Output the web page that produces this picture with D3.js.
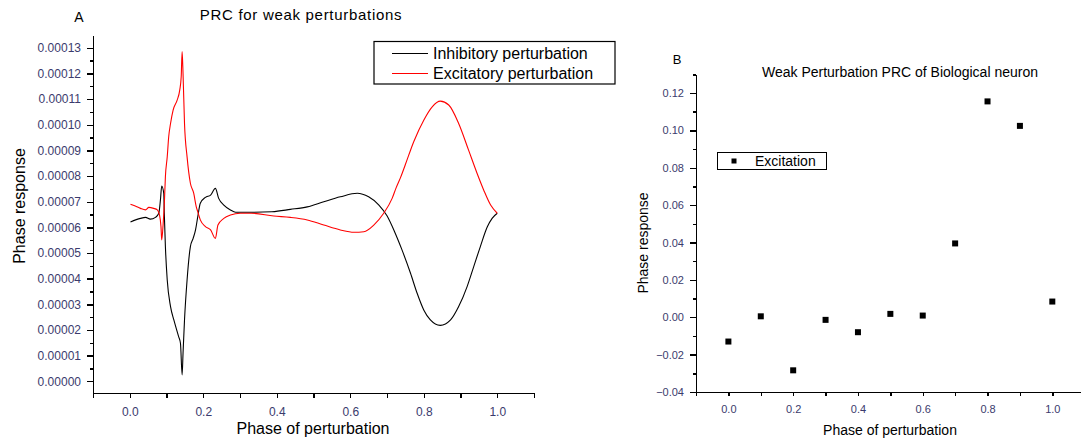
<!DOCTYPE html>
<meta charset="utf-8">
<style> /* set the CSS */

body { margin: 0; background: #fff; }

svg text {
  font-family: "Liberation Sans", Arial, sans-serif;
  fill: #000;
}

.axis path, .axis line {
  stroke: #000;
  stroke-width: 1.4px;
  shape-rendering: crispEdges;
}

.axis text {
  fill: #3b3b6d;
}

.line {
  fill: none;
  stroke-width: 1.1px;
}

</style>
<body>
<svg width="1081" height="439"></svg>
<!-- load the d3.js library -->
<script src="https://d3js.org/d3.v7.min.js"></script>
<script>

// ---- panel A data (phase, response) ----
var inhibPhase = [0.002, 0.029, 0.043, 0.056, 0.070, 0.079, 0.0835, 0.087, 0.0925, 0.094,
  0.097, 0.102, 0.111, 0.120, 0.133, 0.138, 0.1425, 0.145, 0.149, 0.156,
  0.165, 0.1725, 0.179, 0.185, 0.192, 0.206, 0.220, 0.233, 0.242, 0.256,
  0.274, 0.288, 0.330, 0.387, 0.437, 0.483, 0.528, 0.573, 0.619, 0.650,
  0.678, 0.700, 0.720, 0.740, 0.764, 0.782, 0.800, 0.818, 0.845, 0.873,
  0.895, 0.918, 0.936, 0.954, 0.973, 0.986, 1.000];
var inhibResp = [6.21e-5, 6.35e-5, 6.39e-5, 6.32e-5, 6.39e-5, 6.55e-5, 7.07e-5, 7.61e-5, 7.33e-5, 6.55e-5,
  5.25e-5, 3.95e-5, 2.91e-5, 2.39e-5, 1.74e-5, 1.48e-5, 0.25e-5, 1.09e-5, 2.39e-5, 3.95e-5,
  5.25e-5, 5.57e-5, 5.90e-5, 6.41e-5, 6.94e-5, 7.17e-5, 7.26e-5, 7.52e-5, 7.13e-5, 6.87e-5,
  6.68e-5, 6.59e-5, 6.59e-5, 6.61e-5, 6.70e-5, 6.80e-5, 7.00e-5, 7.19e-5, 7.33e-5, 7.19e-5,
  6.87e-5, 6.45e-5, 5.85e-5, 5.15e-5, 4.21e-5, 3.43e-5, 2.78e-5, 2.39e-5, 2.18e-5, 2.39e-5,
  2.91e-5, 3.69e-5, 4.47e-5, 5.25e-5, 6.02e-5, 6.35e-5, 6.55e-5];

var excitPhase = [0.002, 0.015, 0.029, 0.043, 0.052, 0.065, 0.075, 0.081, 0.085, 0.087,
  0.091, 0.0945, 0.097, 0.102, 0.106, 0.111, 0.118, 0.129, 0.136, 0.140,
  0.1425, 0.145, 0.149, 0.156, 0.165, 0.174, 0.181, 0.185, 0.192, 0.206,
  0.220, 0.233, 0.240, 0.256, 0.274, 0.301, 0.330, 0.392, 0.437, 0.483,
  0.528, 0.573, 0.610, 0.637, 0.664, 0.691, 0.714, 0.725, 0.737, 0.750,
  0.773, 0.800, 0.823, 0.845, 0.868, 0.895, 0.922, 0.945, 0.963, 0.982, 1.000];
var excitResp = [6.90e-5, 6.83e-5, 6.74e-5, 6.68e-5, 6.78e-5, 6.74e-5, 6.68e-5, 6.48e-5, 6.03e-5, 5.51e-5,
  6.16e-5, 7.07e-5, 7.97e-5, 8.75e-5, 9.53e-5, 10.05e-5, 10.57e-5, 10.96e-5, 11.35e-5, 11.87e-5,
  12.85e-5, 12.0e-5, 10.05e-5, 8.75e-5, 7.72e-5, 7.33e-5, 6.80e-5, 6.61e-5, 6.29e-5, 6.03e-5,
  5.90e-5, 5.57e-5, 6.09e-5, 6.35e-5, 6.48e-5, 6.55e-5, 6.55e-5, 6.44e-5, 6.39e-5, 6.29e-5,
  6.09e-5, 5.90e-5, 5.81e-5, 5.83e-5, 6.09e-5, 6.55e-5, 7.13e-5, 7.55e-5, 7.95e-5, 8.45e-5,
  9.35e-5, 10.18e-5, 10.70e-5, 10.92e-5, 10.77e-5, 10.05e-5, 9.01e-5, 8.11e-5, 7.46e-5, 6.87e-5, 6.55e-5];

// ---- panel B data ----
var bioPhase = [0.0, 0.1, 0.2, 0.3, 0.4, 0.5, 0.6, 0.7, 0.8, 0.9, 1.0];
var bioResp = [-0.013, 0.0005, -0.0284, -0.0014, -0.008, 0.0018, 0.0009, 0.0395, 0.1155, 0.1024, 0.0084];

// tick values
var phaseTicks = [-0.1, 0.0, 0.1, 0.2, 0.3, 0.4, 0.5, 0.6, 0.7, 0.8, 0.9, 1.0, 1.1];
var phaseLabels = [0.0, 0.2, 0.4, 0.6, 0.8, 1.0];
var respTicksA = [0, 1e-5, 2e-5, 3e-5, 4e-5, 5e-5, 6e-5, 7e-5, 8e-5, 9e-5, 10e-5, 11e-5, 12e-5, 13e-5];
var respTicksB = [-0.04, -0.02, 0.00, 0.02, 0.04, 0.06, 0.08, 0.10, 0.12];

var legendA = ["Inhibitory perturbation", "Excitatory perturbation"];
var legendColors = ["#000000", "#ff0000"];

var svg = d3.select("svg");

function isLabel(v) {
  return phaseLabels.some(function(l) { return Math.abs(l - v) < 1e-9; });
}

// =========== panel A ===========
var xA = d3.scaleLinear().domain([-0.1, 1.1]).range([93, 534]);
var yA = d3.scaleLinear().domain([-0.0000047, 0.000135]).range([393.3, 35]);

var gA = svg.append("g");

// minor y ticks
gA.append("g")
    .attr("class", "axis")
    .attr("transform", "translate(93,0)")
    .call(d3.axisLeft(yA)
        .tickValues(respTicksA.map(function(d) { return d + 0.5e-5; }).slice(0, 13))
        .tickSize(3).tickSizeOuter(0).tickFormat(""));

gA.append("g")
    .attr("class", "axis")
    .attr("transform", "translate(93,0)")
    .call(d3.axisLeft(yA).tickValues(respTicksA).tickSize(6).tickSizeOuter(0)
        .tickPadding(6).tickFormat(d3.format(".5f")))
    .selectAll("text").style("font-size", "12px");

gA.append("g")
    .attr("class", "axis")
    .attr("transform", "translate(0,393.3)")
    .call(d3.axisBottom(xA).tickValues(phaseTicks).tickSize(5).tickSizeOuter(0)
        .tickPadding(9)
        .tickFormat(function(d) { return isLabel(d) ? d3.format(".1f")(d) : ""; }))
    .selectAll("text").style("font-size", "12px");

// define the lines
var lineA = d3.line()
    .x(function(d) { return xA(d[0]); })
    .y(function(d) { return yA(d[1]); })
    .curve(d3.curveMonotoneX);

gA.append("path")
    .datum(d3.zip(inhibPhase, inhibResp))
    .attr("class", "line")
    .attr("stroke", legendColors[0])
    .attr("d", lineA);

gA.append("path")
    .datum(d3.zip(excitPhase, excitResp))
    .attr("class", "line")
    .attr("stroke", legendColors[1])
    .attr("d", lineA);

// titles and labels
gA.append("text").attr("x", 79).attr("y", 22).attr("text-anchor", "middle")
    .style("font-size", "14px").text("A");
gA.append("text").attr("x", 301).attr("y", 20).attr("text-anchor", "middle")
    .style("font-size", "15px").style("letter-spacing", "0.7px")
    .text("PRC for weak perturbations");
gA.append("text").attr("x", 313).attr("y", 434).attr("text-anchor", "middle")
    .style("font-size", "16px").text("Phase of perturbation");
gA.append("text")
    .attr("transform", "translate(25,206) rotate(-90)")
    .attr("text-anchor", "middle")
    .style("font-size", "16px").text("Phase response");

// legend A
var legA = gA.append("g");
legA.append("rect").attr("x", 374).attr("y", 41.5).attr("width", 241).attr("height", 42.5)
    .attr("fill", "#fff").attr("stroke", "#000").attr("stroke-width", 1.2);
legendA.forEach(function(t, i) {
  var yy = 53.5 + i * 20;
  legA.append("line").attr("x1", 392).attr("x2", 428).attr("y1", yy).attr("y2", yy)
      .attr("stroke", legendColors[i]).attr("stroke-width", 1.1);
  legA.append("text").attr("x", 433).attr("y", yy + 5.5)
      .style("font-size", "16px").text(t);
});

// =========== panel B ===========
var xB = d3.scaleLinear().domain([-0.1, 1.1]).range([696, 1084.7]);
var yB = d3.scaleLinear().domain([-0.04, 0.13]).range([392, 74.3]);

var gB = svg.append("g");

gB.append("g")
    .attr("class", "axis")
    .attr("transform", "translate(696,0)")
    .call(d3.axisLeft(yB)
        .tickValues(respTicksB.map(function(d) { return d + 0.01; }))
        .tickSize(3).tickSizeOuter(0).tickFormat(""));

gB.append("g")
    .attr("class", "axis")
    .attr("transform", "translate(696,0)")
    .call(d3.axisLeft(yB).tickValues(respTicksB).tickSize(6).tickSizeOuter(0)
        .tickPadding(6).tickFormat(d3.format(".2f")))
    .selectAll("text").style("font-size", "11px");

gB.append("g")
    .attr("class", "axis")
    .attr("transform", "translate(0,392)")
    .call(d3.axisBottom(xB).tickValues(phaseTicks).tickSize(4).tickSizeOuter(0)
        .tickPadding(9)
        .tickFormat(function(d) { return isLabel(d) ? d3.format(".1f")(d) : ""; }))
    .selectAll("text").style("font-size", "11px");

gB.selectAll(".pt")
    .data(d3.zip(bioPhase, bioResp))
  .enter().append("rect")
    .attr("class", "pt")
    .attr("x", function(d) { return xB(d[0]) - 3; })
    .attr("y", function(d) { return yB(d[1]) - 3; })
    .attr("width", 6).attr("height", 6)
    .attr("fill", "#000");

gB.append("text").attr("x", 677).attr("y", 64).attr("text-anchor", "middle")
    .style("font-size", "13px").text("B");
gB.append("text").attr("x", 900).attr("y", 77).attr("text-anchor", "middle")
    .style("font-size", "14px").text("Weak Perturbation PRC of Biological neuron");
gB.append("text").attr("x", 890).attr("y", 435).attr("text-anchor", "middle")
    .style("font-size", "14px").text("Phase of perturbation");
gB.append("text")
    .attr("transform", "translate(648,243) rotate(-90)")
    .attr("text-anchor", "middle")
    .style("font-size", "14px").text("Phase response");

// legend B
gB.append("rect").attr("x", 717.5).attr("y", 152.5).attr("width", 109).attr("height", 17)
    .attr("fill", "#fff").attr("stroke", "#000").attr("stroke-width", 1);
gB.append("rect").attr("x", 731.5).attr("y", 158.5).attr("width", 5).attr("height", 5)
    .attr("fill", "#000");
gB.append("text").attr("x", 755).attr("y", 166).style("font-size", "14px").text("Excitation");

</script>
</body>
